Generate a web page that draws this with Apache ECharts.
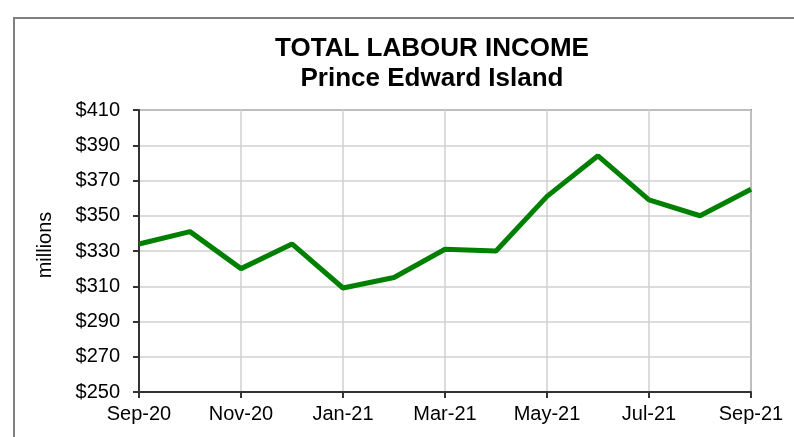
<!DOCTYPE html>
<html>
<head>
<meta charset="utf-8">
<script src="https://cdn.jsdelivr.net/npm/echarts@6/dist/echarts.min.js"></script>
<style>
    html, body { margin: 0; padding: 0; background: #fff; }
    #chart { width: 794px; height: 437px; }
</style>
</head>
<body>
<div id="chart"></div>
<script>
// months on the x axis
const months = ['Sep-20', 'Oct-20', 'Nov-20', 'Dec-20', 'Jan-21', 'Feb-21', 'Mar-21',
    'Apr-21', 'May-21', 'Jun-21', 'Jul-21', 'Aug-21', 'Sep-21'];
// total labour income, millions of dollars
const income = [334, 341, 320, 334, 309, 315, 331, 330, 361, 384, 359, 350, 365];
const titleLines = ['TOTAL LABOUR INCOME', 'Prince Edward Island'];
const yUnit = 'millions';

let chart = echarts.init(document.getElementById('chart'));
let font = 'Liberation Sans, Arial, sans-serif';

let option = {
    animation: false,
    backgroundColor: '#fff',
    textStyle: { fontFamily: font },
    grid: {
        left: 139, right: 43, top: 110, bottom: 45,
        show: true,
        borderColor: '#888',
        borderWidth: 2
    },
    graphic: [
        // outer chart frame
        {
            type: 'rect',
            shape: { x: 14, y: 18, width: 800, height: 450 },
            style: { fill: 'none', stroke: '#7f7f7f', lineWidth: 2 },
            silent: true
        },
        {
            type: 'text',
            style: {
                x: 432, y: 49, text: titleLines[0],
                font: 'bold 26px ' + font, fill: '#000',
                textAlign: 'center', textVerticalAlign: 'middle'
            }
        },
        {
            type: 'text',
            style: {
                x: 432, y: 79, text: titleLines[1],
                font: 'bold 26px ' + font, fill: '#000',
                textAlign: 'center', textVerticalAlign: 'middle'
            }
        },
        {
            type: 'text',
            rotation: Math.PI / 2,
            x: 45, y: 245,
            style: {
                x: 0, y: 0, text: yUnit,
                font: '20px ' + font, fill: '#000',
                textAlign: 'center', textVerticalAlign: 'middle'
            }
        }
    ],
    xAxis: {
        type: 'category',
        boundaryGap: false, // 点落在刻度上
        data: months,
        axisLine: { lineStyle: { color: '#333', width: 2 } },
        axisTick: { interval: 1, length: 6, lineStyle: { color: '#333', width: 2 } },
        axisLabel: { interval: 1, margin: 12, fontSize: 20, color: '#000', fontFamily: font },
        splitLine: { show: true, interval: 1, lineStyle: { color: '#d0d0d0', width: 1.5 } }
    },
    yAxis: {
        type: 'value',
        min: 250,
        max: 410,
        interval: 20,
        axisLine: { show: true, lineStyle: { color: '#333', width: 2 } },
        axisTick: { show: true, length: 6, lineStyle: { color: '#333', width: 2 } },
        axisLabel: {
            margin: 19, fontSize: 20, color: '#000', fontFamily: font,
            formatter: function (v) { return '$' + v; }
        },
        splitLine: { show: true, lineStyle: { color: '#d0d0d0', width: 1.5 } }
    },
    series: [{
        type: 'line',
        data: income,
        symbol: 'none',
        lineStyle: { color: '#008000', width: 5 },
        z: 5
    }]
};
chart.setOption(option);
</script>
</body>
</html>
